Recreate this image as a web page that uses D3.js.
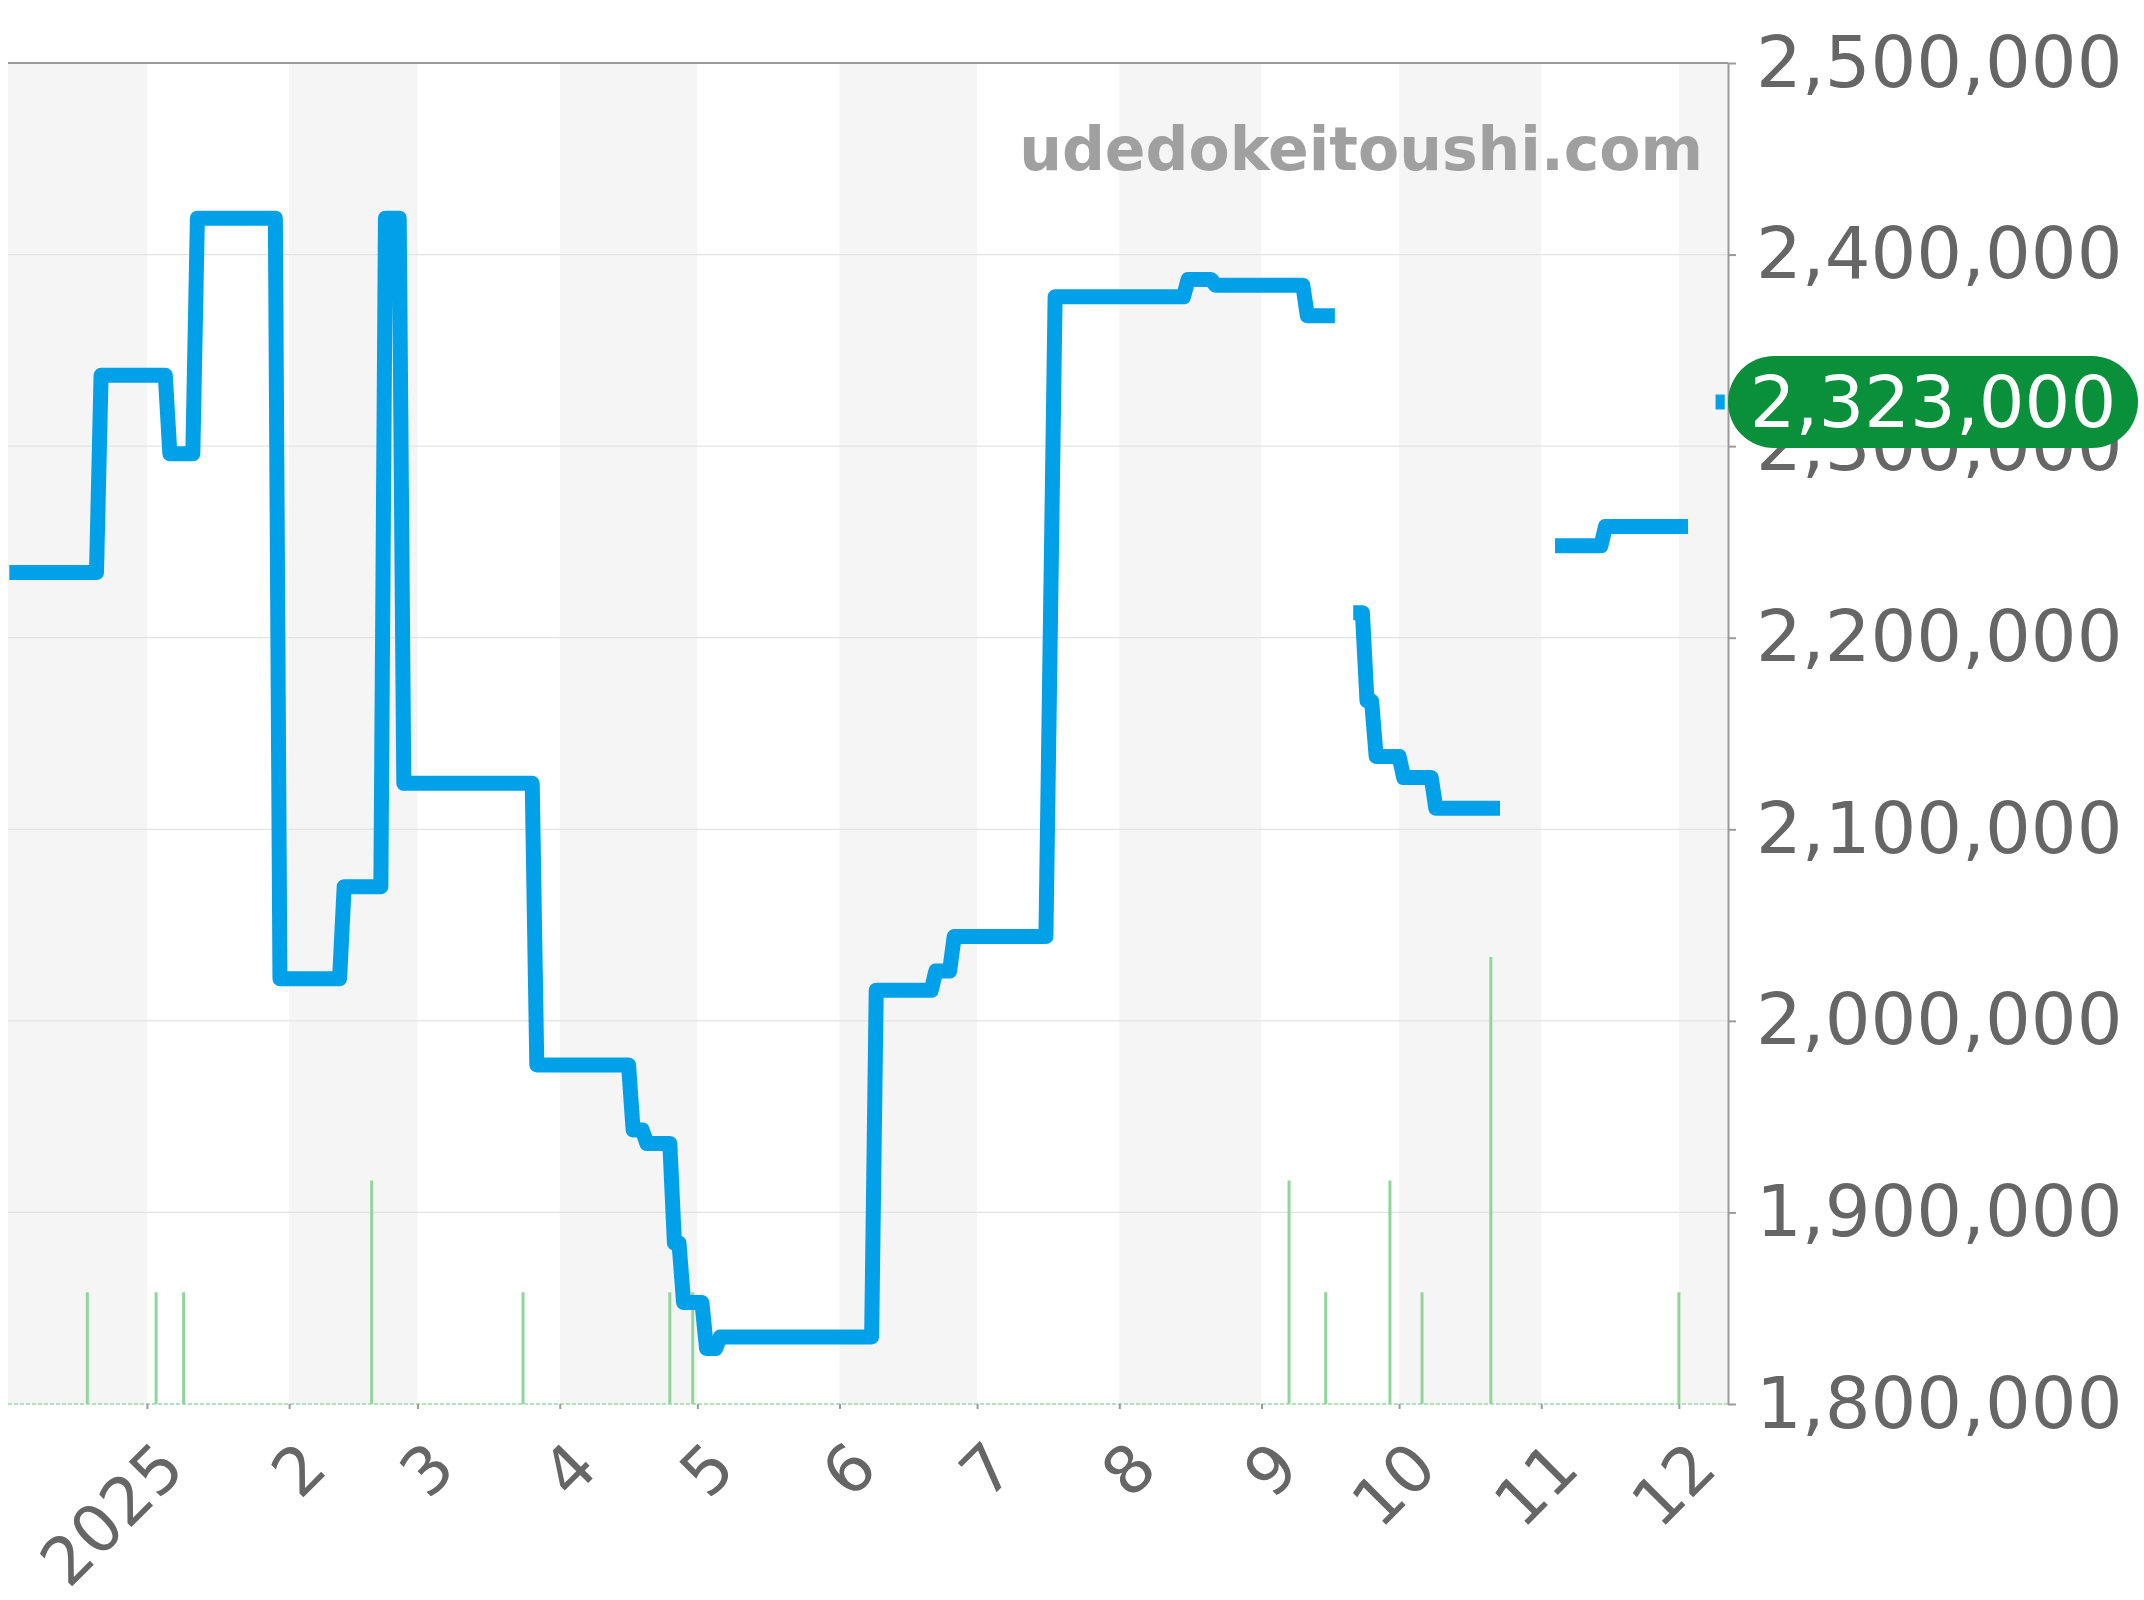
<!DOCTYPE html>
<html><head><meta charset="utf-8">
<script src="https://cdn.jsdelivr.net/npm/d3@7"></script>
<style>html,body{margin:0;padding:0;background:#fff;} svg{display:block;}</style>
</head><body>
<svg id="chart" width="2144" height="1600"></svg>
<script>
// ---- data ----
const priceDates = [
  "2024-12-02","2024-12-21","2024-12-22","2025-01-05","2025-01-06","2025-01-11","2025-01-12",
  "2025-01-29","2025-01-30","2025-02-12","2025-02-13","2025-02-21","2025-02-22","2025-02-25",
  "2025-02-26","2025-03-26","2025-03-27","2025-04-16","2025-04-17","2025-04-19","2025-04-20",
  "2025-04-25","2025-04-26","2025-04-27","2025-04-28","2025-05-02","2025-05-03","2025-05-05",
  "2025-05-06","2025-06-08","2025-06-09","2025-06-21","2025-06-22","2025-06-25","2025-06-26",
  "2025-07-16","2025-07-18","2025-08-15","2025-08-16","2025-08-21","2025-08-22","2025-09-10",
  "2025-09-11","2025-09-17","2025-09-19",
  "2025-09-21","2025-09-23","2025-09-24","2025-09-25","2025-09-26","2025-10-01","2025-10-02",
  "2025-10-08","2025-10-09","2025-10-23","2025-10-28",
  "2025-11-04","2025-11-14","2025-11-15","2025-12-03","2025-12-06",
  "2025-12-09","2025-12-11"
];
const priceValues = [
  2234000,2234000,2337000,2337000,2296000,2296000,2419000,
  2419000,2022000,2022000,2070000,2070000,2419000,2419000,
  2124000,2124000,1977000,1977000,1943000,1943000,1936000,
  1936000,1884000,1884000,1853000,1853000,1829000,1829000,
  1835000,1835000,2016000,2016000,2026000,2026000,2044000,
  2044000,2378000,2378000,2387000,2387000,2384000,2384000,
  2368000,2368000,null,
  2213000,2213000,2167000,2167000,2138000,2138000,2127000,
  2127000,2111000,2111000,null,
  2248000,2248000,2258000,2258000,null,
  2323000,2323000
];
const volumeDates = ["2024-12-19","2025-01-03","2025-01-09","2025-02-19","2025-03-24","2025-04-25",
  "2025-04-30","2025-09-07","2025-09-15","2025-09-29","2025-10-06","2025-10-21","2025-12-01"];
const volumeCounts = [1,1,1,2,1,1,1,2,1,2,1,4,1];
const monthTicks = ["2025-01-01","2025-02-01","2025-03-01","2025-04-01","2025-05-01","2025-06-01",
  "2025-07-01","2025-08-01","2025-09-01","2025-10-01","2025-11-01","2025-12-01"];
const monthTickLabels = ["2025","2","3","4","5","6","7","8","9","10","11","12"];
const yTickValues = [1800000,1900000,2000000,2100000,2200000,2300000,2400000,2500000];
const latestValue = 2323000;
const latestLabel = "2,323,000";
const watermarkText = "udedokeitoushi.com";

// ---- setup ----
const parse = d3.timeParse("%Y-%m-%d");
const L = 8, R = 1728, T = 63, B = 1404;
const FONT = "'DejaVu Sans', sans-serif";
const LABEL_SIZE = 72;
const XLABEL_SIZE = 66;
const svg = d3.select("#chart");

const x = d3.scaleTime()
  .domain([new Date(2024, 11, 1, 17), new Date(2025, 11, 11, 17)])
  .range([L, R]);
const y = d3.scaleLinear().domain([1800000, 2500000]).range([B, T]);
const yv = d3.scaleLinear().domain([0, 12]).range([B, T]);

svg.append("defs").append("clipPath").attr("id", "plotclip")
  .append("rect").attr("x", L).attr("y", T).attr("width", R - L).attr("height", B - T);

// alternating month bands
const months = d3.timeMonth.range(new Date(2024, 11, 1), new Date(2026, 0, 1));
svg.append("g").attr("clip-path", "url(#plotclip)")
  .selectAll("rect").data(months.filter((m, i) => i % 2 === 0)).join("rect")
  .attr("x", d => x(d))
  .attr("width", d => x(d3.timeMonth.offset(d, 1)) - x(d))
  .attr("y", T).attr("height", B - T)
  .attr("fill", "#f5f5f5");

// gridlines
svg.append("g").selectAll("line").data(yTickValues.slice(1, -1)).join("line")
  .attr("x1", L).attr("x2", R)
  .attr("y1", d => y(d)).attr("y2", d => y(d))
  .attr("stroke", "#e3e3e3").attr("stroke-width", 1.2);

// top border
svg.append("line").attr("x1", L).attr("x2", R).attr("y1", T).attr("y2", T)
  .attr("stroke", "#9a9a9a").attr("stroke-width", 2);

// volume bars
svg.append("g").selectAll("line").data(volumeDates.map((d, i) => ({ d: parse(d), c: volumeCounts[i] })))
  .join("line")
  .attr("x1", d => x(d.d)).attr("x2", d => x(d.d))
  .attr("y1", yv(0)).attr("y2", d => yv(d.c))
  .attr("stroke", "#8fd69b").attr("stroke-width", 3);

// green baseline
svg.append("line").attr("x1", L).attr("x2", R).attr("y1", B).attr("y2", B)
  .attr("stroke", "#98d9a3").attr("stroke-width", 1.5).attr("stroke-dasharray", "4,2");

// price line
const pts = priceDates.map((d, i) => ({ d: parse(d), v: priceValues[i] }));
const line = d3.line().defined(d => d.v != null).x(d => x(d.d)).y(d => y(d.v));
svg.append("path").datum(pts)
  .attr("d", line)
  .attr("fill", "none")
  .attr("stroke", "#00a1e9")
  .attr("stroke-width", 15)
  .attr("stroke-linejoin", "round")
  .attr("stroke-linecap", "butt");

// x axis
const xAxis = d3.axisBottom(x)
  .tickValues(monthTicks.map(parse))
  .tickSize(5)
  .tickFormat((d, i) => monthTickLabels[i]);
const gx = svg.append("g").attr("transform", `translate(0,${B})`).call(xAxis);
gx.select(".domain").remove();
gx.selectAll(".tick line").attr("stroke", "#9a9a9a").attr("stroke-width", 2);
gx.selectAll(".tick text")
  .attr("x", 0).attr("y", 0).attr("dy", 0)
  .attr("text-anchor", "end")
  .attr("transform", "translate(40,67) rotate(-45)")
  .attr("fill", "#666").attr("font-size", XLABEL_SIZE).attr("font-family", FONT);

// y axis (right)
const yAxis = d3.axisRight(y)
  .tickValues(yTickValues)
  .tickSize(8).tickSizeOuter(0)
  .tickPadding(20)
  .tickFormat(d3.format(","));
const gy = svg.append("g").attr("transform", `translate(${R},0)`).call(yAxis);
gy.select(".domain").attr("stroke", "#9a9a9a").attr("stroke-width", 2);
gy.selectAll(".tick line").attr("stroke", "#9a9a9a").attr("stroke-width", 2);
gy.selectAll(".tick text").attr("fill", "#666").attr("font-size", LABEL_SIZE).attr("font-family", FONT);

// watermark
svg.append("text")
  .attr("x", 1703).attr("y", 170)
  .attr("text-anchor", "end")
  .attr("font-family", FONT).attr("font-weight", "bold").attr("font-size", 60)
  .attr("fill", "#a0a0a0")
  .text(watermarkText);

// latest value pill
const py = y(latestValue);
svg.append("rect")
  .attr("x", R).attr("y", py - 46).attr("width", 410).attr("height", 92)
  .attr("rx", 46).attr("ry", 46)
  .attr("fill", "#0a8f3b");
svg.append("text")
  .attr("x", R + 205).attr("y", py).attr("dy", "0.35em")
  .attr("text-anchor", "middle")
  .attr("font-family", FONT).attr("font-size", LABEL_SIZE)
  .attr("fill", "#ffffff")
  .text(latestLabel);
</script>
</body></html>
